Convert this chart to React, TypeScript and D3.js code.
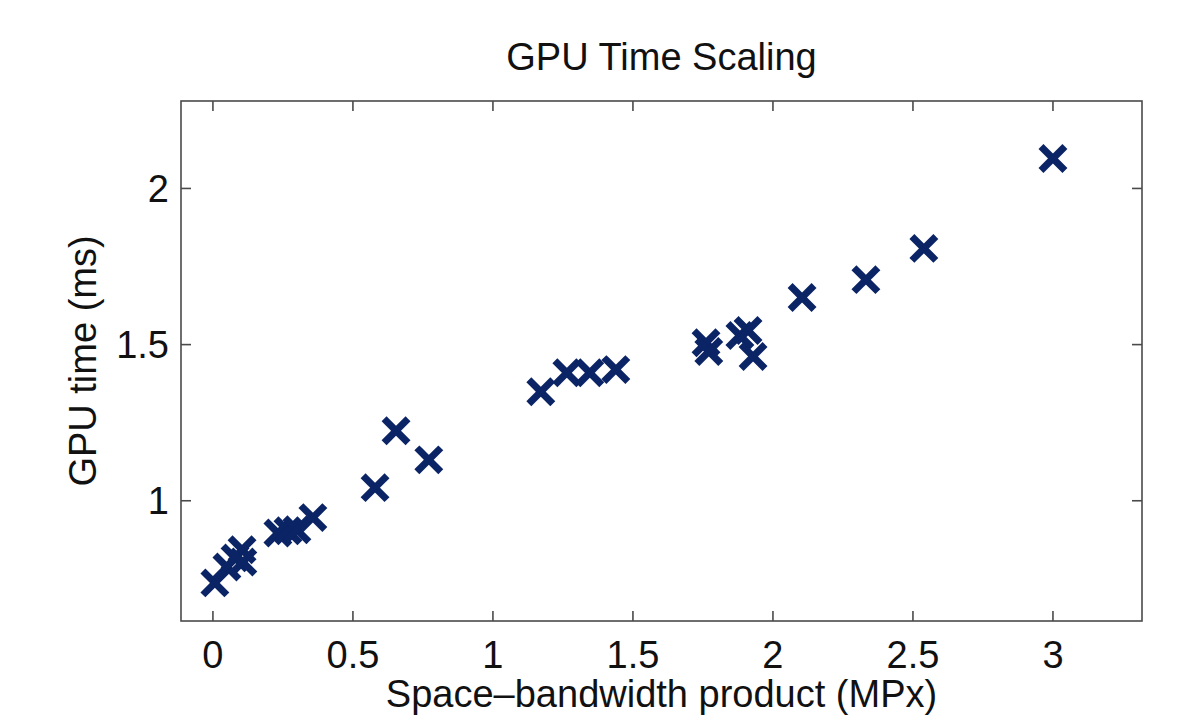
import React from "react";
import * as d3 from "d3";

const xValues = [0.007, 0.05, 0.079, 0.104, 0.107, 0.232, 0.268, 0.3, 0.357, 0.579, 0.654, 0.771, 1.171, 1.264, 1.346, 1.439, 1.761, 1.771, 1.882, 1.911, 1.929, 2.104, 2.332, 2.539, 3.0];
const yValues = [0.737, 0.788, 0.817, 0.843, 0.804, 0.897, 0.904, 0.907, 0.946, 1.042, 1.224, 1.131, 1.349, 1.41, 1.41, 1.42, 1.506, 1.478, 1.529, 1.545, 1.462, 1.651, 1.708, 1.808, 2.096];
const xTicks = [0, 0.5, 1, 1.5, 2, 2.5, 3];
const yTicks = [1, 1.5, 2];
const xDomain = [-0.114, 3.318];
const yDomain = [0.615, 2.28];

const W = 1193, H = 717;
const L = 181, R = 1142, T = 101, B = 621;
const FONT = "'Liberation Sans', Arial, Helvetica, sans-serif";
const AX = "#4a4a4a";
const MK = "#0b2465";

export default function App() {
  const x = d3.scaleLinear().domain(xDomain).range([L, R]);
  const y = d3.scaleLinear().domain(yDomain).range([B, T]);
  const tl = 10;
  const s = 9.5;
  const pts = xValues.map((v, i) => ({ x: x(v), y: y(yValues[i]) }));
  return (
    <svg width={W} height={H} style={{ position: "absolute", left: 0, top: 0, background: "#fff" }} fontFamily={FONT}>
      <rect x={0} y={0} width={W} height={H} fill="#fff" />
      <text x={(L + R) / 2} y={70} textAnchor="middle" fontSize={38} fill="#111">GPU Time Scaling</text>
      {pts.map((p, i) => (
        <g key={i} stroke={MK} strokeWidth={7} strokeLinecap="square">
          <line x1={p.x - s} y1={p.y - s} x2={p.x + s} y2={p.y + s} />
          <line x1={p.x - s} y1={p.y + s} x2={p.x + s} y2={p.y - s} />
        </g>
      ))}
      <rect x={L} y={T} width={R - L} height={B - T} fill="none" stroke={AX} strokeWidth={1.6} />
      {xTicks.map((t) => (
        <g key={"x" + t}>
          <line x1={x(t)} x2={x(t)} y1={B} y2={B - tl} stroke={AX} strokeWidth={1.6} />
          <line x1={x(t)} x2={x(t)} y1={T} y2={T + tl} stroke={AX} strokeWidth={1.6} />
          <text x={x(t)} y={668} textAnchor="middle" fontSize={38} fill="#111">{String(t)}</text>
        </g>
      ))}
      {yTicks.map((t) => (
        <g key={"y" + t}>
          <line x1={L} x2={L + tl} y1={y(t)} y2={y(t)} stroke={AX} strokeWidth={1.6} />
          <line x1={R} x2={R - tl} y1={y(t)} y2={y(t)} stroke={AX} strokeWidth={1.6} />
          <text x={169} y={y(t) + 13.5} textAnchor="end" fontSize={38} fill="#111">{String(t)}</text>
        </g>
      ))}
      <text x={(L + R) / 2} y={707} textAnchor="middle" fontSize={38} fill="#111">Space–bandwidth product (MPx)</text>
      <text transform={`translate(96,${(T + B) / 2}) rotate(-90)`} textAnchor="middle" fontSize={38} fill="#111">GPU time (ms)</text>
    </svg>
  );
}
